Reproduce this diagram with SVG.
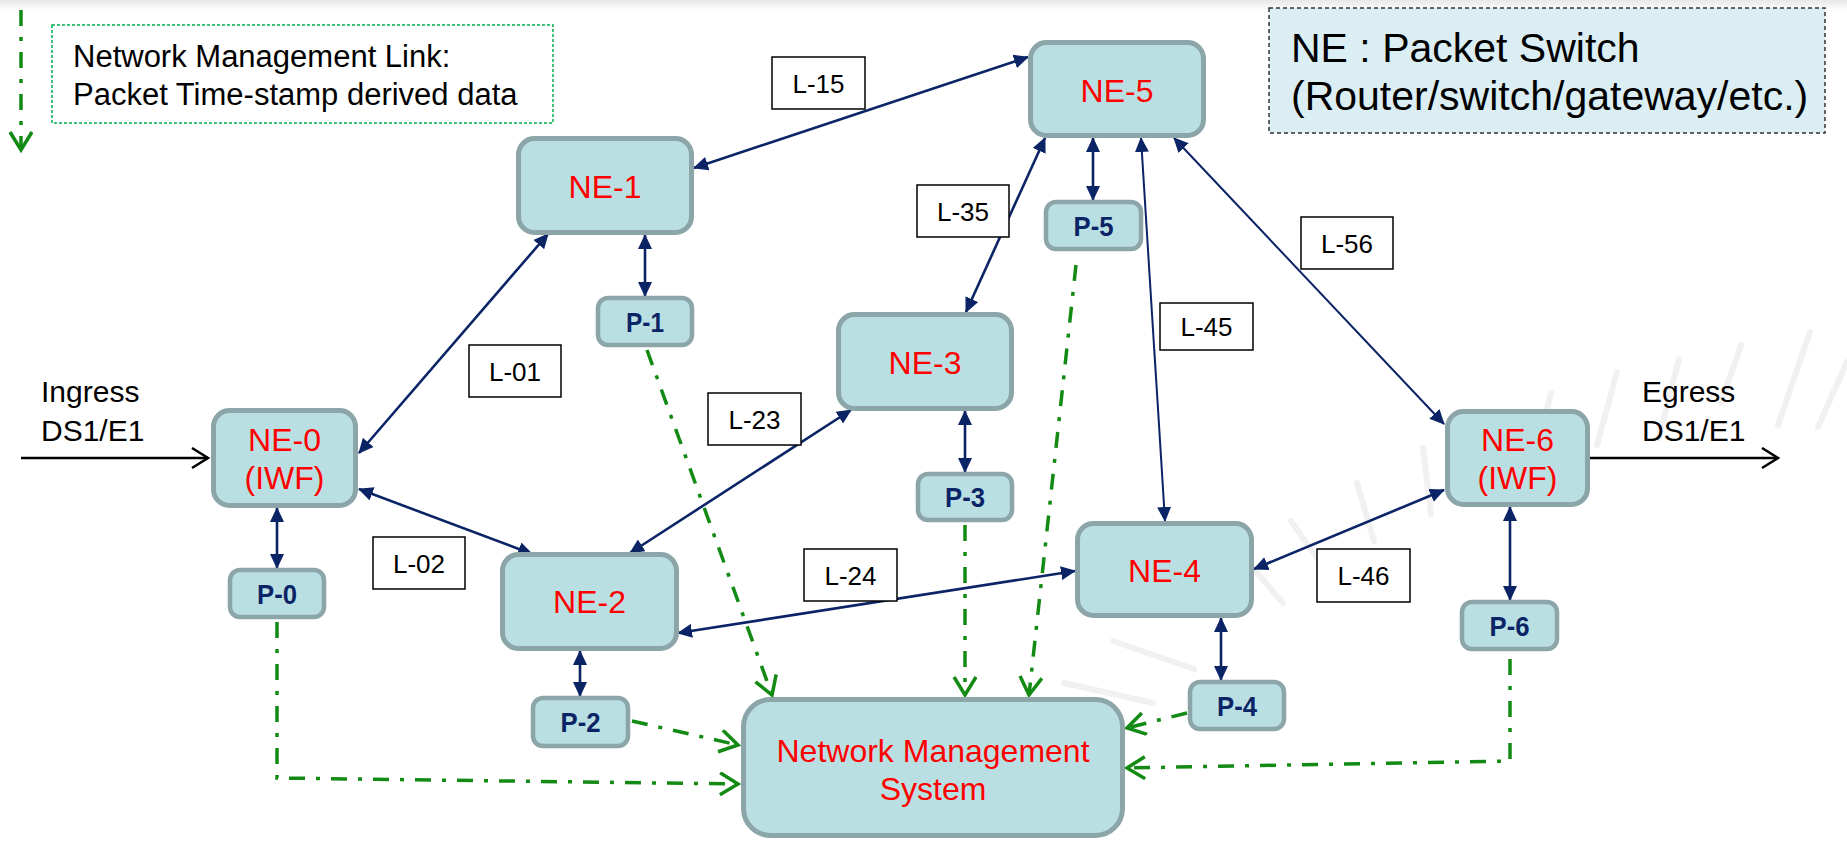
<svg xmlns="http://www.w3.org/2000/svg" width="1847" height="841" viewBox="0 0 1847 841">
<defs>
<linearGradient id="topband" x1="0" y1="0" x2="0" y2="1">
<stop offset="0" stop-color="#e6e6e6"/>
<stop offset="1" stop-color="#ffffff"/>
</linearGradient>
<marker id="nav" markerUnits="userSpaceOnUse" markerWidth="16" markerHeight="14" refX="14" refY="7" orient="auto-start-reverse">
<path d="M0,0 L15,7 L0,14 z" fill="#0B2466"/>
</marker>
<marker id="grn" markerUnits="userSpaceOnUse" markerWidth="24" markerHeight="26" refX="20" refY="12" orient="auto">
<path d="M2,1 L20,12 L2,23" fill="none" stroke="#138A13" stroke-width="3.5"/>
</marker>
<marker id="blk" markerUnits="userSpaceOnUse" markerWidth="20" markerHeight="24" refX="17" refY="11" orient="auto">
<path d="M1,1 L17,11 L1,21" fill="none" stroke="#000" stroke-width="2.5"/>
</marker>
<style>
.ne{fill:#B9DFE2;stroke:#8CA5A8;stroke-width:5}
.p{fill:#B9DFE2;stroke:#8CA5A8;stroke-width:4.5}
.net{font-family:"Liberation Sans",Arial,sans-serif;font-size:32px;fill:#FF0000;text-anchor:middle}
.pt{font-family:"Liberation Sans",Arial,sans-serif;font-size:28px;font-weight:bold;fill:#0B2466;text-anchor:middle}
.lb{fill:#fff;stroke:#000;stroke-width:1.5}
.lt{font-family:"Liberation Sans",Arial,sans-serif;font-size:26px;fill:#000;text-anchor:middle}
.bt{font-family:"Liberation Sans",Arial,sans-serif;fill:#000}
.nav{stroke:#0B2466;stroke-width:2.6;fill:none;marker-start:url(#nav);marker-end:url(#nav)}
.grn{stroke:#138A13;stroke-width:3.5;fill:none;stroke-dasharray:16 11 4 11;marker-end:url(#grn)}
.wm{stroke:#F1F1F1;stroke-width:6;stroke-linecap:round;fill:none}
</style>
</defs>
<rect x="0" y="0" width="1847" height="841" fill="#ffffff"/>
<rect x="0" y="0" width="1847" height="10" fill="url(#topband)"/>
<g id="watermark">
<line class="wm" x1="1810" y1="332" x2="1778" y2="425"/>
<line class="wm" x1="1847" y1="362" x2="1818" y2="427"/>
<line class="wm" x1="1741" y1="345" x2="1721" y2="403"/>
<line class="wm" x1="1679" y1="359" x2="1659" y2="438"/>
<line class="wm" x1="1617" y1="372" x2="1597" y2="445"/>
<line class="wm" x1="1551" y1="393" x2="1546" y2="413"/>
<line class="wm" x1="1423" y1="448" x2="1431" y2="514"/>
<line class="wm" x1="1357" y1="483" x2="1374" y2="541"/>
<line class="wm" x1="1291" y1="521" x2="1320" y2="562"/>
<line class="wm" x1="1254" y1="569" x2="1283" y2="603"/>
<line class="wm" x1="1113" y1="641" x2="1194" y2="669"/>
<line class="wm" x1="1064" y1="683" x2="1153" y2="703"/>
</g>
<g id="legend-nm">
<rect x="52" y="25" width="501" height="98" fill="#fff" stroke="#00B050" stroke-width="1.5" stroke-dasharray="3 2"/>
<text class="bt" x="73" y="67" font-size="31">Network Management Link:</text>
<text class="bt" x="73" y="105" font-size="31">Packet Time-stamp derived data</text>
</g>
<g id="legend-ne">
<rect x="1269" y="8" width="556" height="125" fill="#DAEEF3" stroke="#333" stroke-width="1.5" stroke-dasharray="4 3"/>
<text class="bt" x="1291" y="62" font-size="41">NE : Packet Switch</text>
<text class="bt" x="1291" y="110" font-size="41">(Router/switch/gateway/etc.)</text>
</g>
<g id="io-labels">
<text class="bt" x="41" y="402" font-size="30">Ingress</text>
<text class="bt" x="41" y="441" font-size="30">DS1/E1</text>
<text class="bt" x="1642" y="402" font-size="30">Egress</text>
<text class="bt" x="1642" y="441" font-size="30">DS1/E1</text>
</g>
<g id="connectors">
<line x1="21" y1="458" x2="208" y2="458" stroke="#000" stroke-width="2.5" marker-end="url(#blk)"/>
<line x1="1590" y1="458" x2="1778" y2="458" stroke="#000" stroke-width="2.5" marker-end="url(#blk)"/>
<line class="nav" x1="359" y1="453" x2="548" y2="234"/>
<line class="nav" x1="359" y1="489" x2="532" y2="554"/>
<line class="nav" x1="694" y1="168" x2="1028" y2="57"/>
<line class="nav" x1="630" y1="553" x2="851" y2="410"/>
<line class="nav" x1="678" y1="633" x2="1075" y2="571"/>
<line class="nav" x1="966" y1="312" x2="1045" y2="138"/>
<line class="nav" x1="1141" y1="138" x2="1165" y2="521" style="stroke-width:2"/>
<line class="nav" x1="1174" y1="138" x2="1444" y2="424" style="stroke-width:2"/>
<line class="nav" x1="1254" y1="569" x2="1444" y2="490"/>
<line class="nav" x1="277" y1="508" x2="277" y2="568"/>
<line class="nav" x1="645" y1="235" x2="645" y2="296"/>
<line class="nav" x1="580" y1="651" x2="580" y2="696"/>
<line class="nav" x1="965" y1="411" x2="965" y2="472"/>
<line class="nav" x1="1221" y1="618" x2="1221" y2="680"/>
<line class="nav" x1="1093" y1="138" x2="1093" y2="200"/>
<line class="nav" x1="1510" y1="507" x2="1510" y2="600"/>
<path class="grn" d="M21,10 L21,150"/>
<path class="grn" d="M277,622 L277,778 L738,784"/>
<path class="grn" d="M647,350 L772,695"/>
<path class="grn" d="M632,721 L738,745"/>
<path class="grn" d="M965,525 L965,695"/>
<path class="grn" d="M1076,265 L1029,695"/>
<path class="grn" d="M1187,713 L1127,728"/>
<path class="grn" d="M1510,659 L1510,761 L1127,768"/>
</g>
<g id="label-boxes">
<rect class="lb" x="772" y="57" width="93" height="52"/><text class="lt" x="818.5" y="92.5">L-15</text>
<rect class="lb" x="917" y="185" width="92" height="52"/><text class="lt" x="963" y="220.5">L-35</text>
<rect class="lb" x="1301" y="217" width="92" height="52"/><text class="lt" x="1347" y="252.5">L-56</text>
<rect class="lb" x="1160" y="303" width="93" height="47"/><text class="lt" x="1206.5" y="336">L-45</text>
<rect class="lb" x="469" y="345" width="92" height="52"/><text class="lt" x="515" y="380.5">L-01</text>
<rect class="lb" x="708" y="393" width="93" height="52"/><text class="lt" x="754.5" y="428.5">L-23</text>
<rect class="lb" x="373" y="537" width="92" height="52"/><text class="lt" x="419" y="572.5">L-02</text>
<rect class="lb" x="804" y="549" width="93" height="52"/><text class="lt" x="850.5" y="584.5">L-24</text>
<rect class="lb" x="1317" y="549" width="93" height="53"/><text class="lt" x="1363.5" y="585">L-46</text>
</g>
<g id="NE-0"><rect class="ne" x="213.5" y="410.5" width="142" height="95" rx="16"/><text class="net" x="284.5" y="451">NE-0</text><text class="net" x="284.5" y="489">(IWF)</text></g>
<g id="NE-1"><rect class="ne" x="518.5" y="138.5" width="173" height="94" rx="16"/><text class="net" x="605" y="198">NE-1</text></g>
<g id="NE-2"><rect class="ne" x="502.5" y="554.5" width="174" height="94" rx="16"/><text class="net" x="589.5" y="613">NE-2</text></g>
<g id="NE-3"><rect class="ne" x="838.5" y="314.5" width="173" height="94" rx="16"/><text class="net" x="925" y="374">NE-3</text></g>
<g id="NE-4"><rect class="ne" x="1077.5" y="523.5" width="174" height="92" rx="16"/><text class="net" x="1164.5" y="582">NE-4</text></g>
<g id="NE-5"><rect class="ne" x="1030.5" y="42.5" width="173" height="93" rx="16"/><text class="net" x="1117" y="102">NE-5</text></g>
<g id="NE-6"><rect class="ne" x="1447.5" y="411.5" width="140" height="93" rx="16"/><text class="net" x="1517.5" y="451">NE-6</text><text class="net" x="1517.5" y="489">(IWF)</text></g>
<g id="NMS"><rect class="ne" x="743.5" y="699.5" width="379" height="136" rx="27"/><text class="net" x="933" y="762">Network Management</text><text class="net" x="933" y="800">System</text></g>
<g id="P-0"><rect class="p" x="230" y="570" width="94" height="47" rx="10"/><text class="pt" x="277" y="603.5" textLength="40" lengthAdjust="spacingAndGlyphs">P-0</text></g>
<g id="P-1"><rect class="p" x="598" y="298" width="94" height="47" rx="10"/><text class="pt" x="645" y="331.5" textLength="38" lengthAdjust="spacingAndGlyphs">P-1</text></g>
<g id="P-2"><rect class="p" x="533" y="698" width="95" height="48" rx="10"/><text class="pt" x="580.5" y="732" textLength="40" lengthAdjust="spacingAndGlyphs">P-2</text></g>
<g id="P-3"><rect class="p" x="918" y="474" width="94" height="46" rx="10"/><text class="pt" x="965" y="507" textLength="40" lengthAdjust="spacingAndGlyphs">P-3</text></g>
<g id="P-4"><rect class="p" x="1190" y="682" width="94" height="47" rx="10"/><text class="pt" x="1237" y="715.5" textLength="40" lengthAdjust="spacingAndGlyphs">P-4</text></g>
<g id="P-5"><rect class="p" x="1046" y="202" width="95" height="47" rx="10"/><text class="pt" x="1093.5" y="235.5" textLength="40" lengthAdjust="spacingAndGlyphs">P-5</text></g>
<g id="P-6"><rect class="p" x="1462" y="602" width="95" height="47" rx="10"/><text class="pt" x="1509.5" y="635.5" textLength="40" lengthAdjust="spacingAndGlyphs">P-6</text></g>
</svg>
